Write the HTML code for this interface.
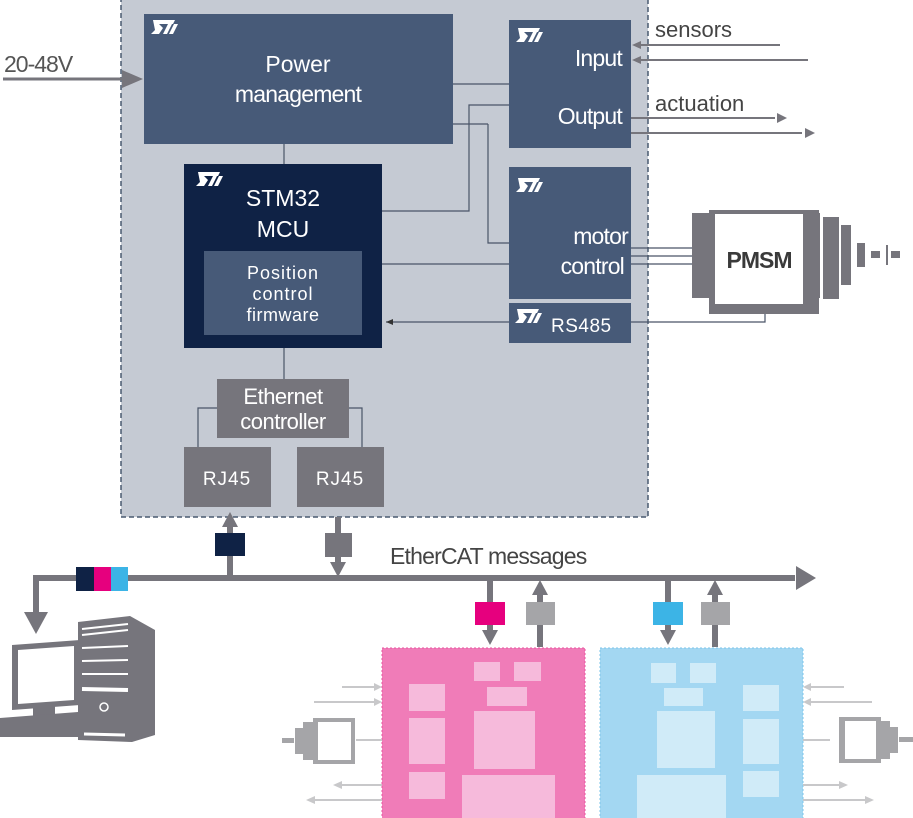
<!DOCTYPE html>
<html><head><meta charset="utf-8"><style>
html,body{margin:0;padding:0;background:#fff;}
svg{display:block;font-family:"Liberation Sans",Arial,sans-serif;}
</style></head><body>
<svg width="913" height="818" viewBox="0 0 913 818" xmlns="http://www.w3.org/2000/svg">
<defs>
<g id="st"><path d="M2 0 H24 L22 4 H8 L12 8 L8 14 H0 L4 10 Z M12 14 L17 4 H21 L16 14 Z M18 14 L23 4 H27 L22 14 Z" fill="#fff"/></g>
</defs>
<!-- main panel -->
<rect x="121" y="-2" width="527" height="519" fill="#c5cad3" stroke="#4a5a70" stroke-width="1.5" stroke-dasharray="5,3"/>
<!-- connector lines inside -->
<g stroke="#4a5568" stroke-width="1.2" fill="none">
<line x1="284" y1="144" x2="284" y2="164"/>
<line x1="453" y1="84" x2="509" y2="84"/>
<line x1="453" y1="124" x2="488" y2="124" /><polyline points="488,124 488,243 509,243"/>
<polyline points="382,211 469,211 469,105 509,105"/>
<line x1="382" y1="264" x2="509" y2="264"/>
<line x1="284" y1="348" x2="284" y2="379"/>
<polyline points="217,408 198,408 198,447"/>
<polyline points="349,408 362,408 362,447"/>
<line x1="386" y1="322" x2="509" y2="322"/>
<polyline points="631,322 765,322 765,312"/>
<line x1="631" y1="248" x2="693" y2="248"/>
<line x1="631" y1="256" x2="693" y2="256"/>
<line x1="631" y1="264" x2="693" y2="264"/>
</g>
<polygon points="386,322 393,319 393,325" fill="#333"/>
<!-- Power management -->
<rect x="144" y="14" width="309" height="130" fill="#475a78"/>
<use href="#st" x="151" y="20"/>
<text x="298" y="72" font-size="23" fill="#fff" text-anchor="middle">Power</text>
<text x="298" y="102" font-size="23" fill="#fff" text-anchor="middle" letter-spacing="-0.8">management</text>
<!-- STM32 -->
<rect x="184" y="164" width="198" height="184" fill="#0f2245"/>
<use href="#st" x="196" y="172"/>
<text x="283" y="206" font-size="23" fill="#fff" text-anchor="middle">STM32</text>
<text x="283" y="237" font-size="23" fill="#fff" text-anchor="middle">MCU</text>
<rect x="204" y="251" width="158" height="84" fill="#475a78"/>
<text x="283" y="279" font-size="18" fill="#fff" text-anchor="middle" letter-spacing="1">Position</text>
<text x="283" y="300" font-size="18" fill="#fff" text-anchor="middle" letter-spacing="1">control</text>
<text x="283" y="321" font-size="18" fill="#fff" text-anchor="middle" letter-spacing="0.5">firmware</text>
<!-- IO -->
<rect x="509" y="20" width="122" height="128" fill="#475a78"/>
<use href="#st" x="516" y="28"/>
<text x="622" y="66" font-size="23" fill="#fff" text-anchor="end" letter-spacing="-0.8">Input</text>
<text x="622" y="124" font-size="23" fill="#fff" text-anchor="end" letter-spacing="-0.8">Output</text>
<!-- motor control -->
<rect x="509" y="167" width="122" height="132" fill="#475a78"/>
<use href="#st" x="516" y="178"/>
<text x="628" y="244" font-size="23" fill="#fff" text-anchor="end" letter-spacing="-0.8">motor</text>
<text x="624" y="274" font-size="23" fill="#fff" text-anchor="end" letter-spacing="-0.8">control</text>
<rect x="509" y="303" width="122" height="40" fill="#475a78"/>
<use href="#st" x="515" y="309"/>
<text x="551" y="332" font-size="19" fill="#fff" letter-spacing="0.5">RS485</text>
<!-- Ethernet -->
<rect x="217" y="379" width="132" height="59" fill="#76757c"/>
<text x="283" y="404" font-size="22" fill="#fff" text-anchor="middle" letter-spacing="-0.5">Ethernet</text>
<text x="283" y="429" font-size="22" fill="#fff" text-anchor="middle" letter-spacing="-0.5">controller</text>
<rect x="184" y="447" width="87" height="60" fill="#76757c"/>
<rect x="297" y="447" width="87" height="60" fill="#76757c"/>
<text x="227" y="485" font-size="19" fill="#fff" text-anchor="middle" letter-spacing="1">RJ45</text>
<text x="340" y="485" font-size="19" fill="#fff" text-anchor="middle" letter-spacing="1">RJ45</text>
<!-- 20-48V -->
<text x="4" y="72" font-size="23" fill="#555" letter-spacing="-1">20-48V</text>
<line x1="3" y1="79" x2="124" y2="79" stroke="#76757c" stroke-width="3"/>
<polygon points="143,79 122,70 122,88" fill="#76757c"/>
<!-- sensors / actuation -->
<text x="655" y="37" font-size="22" fill="#444">sensors</text>
<text x="655" y="111" font-size="22" fill="#444">actuation</text>
<g stroke="#76757c" stroke-width="2">
<line x1="638" y1="45" x2="780" y2="45"/><line x1="638" y1="60" x2="808" y2="60"/>
<line x1="631" y1="118" x2="775" y2="118"/><line x1="631" y1="133" x2="802" y2="133"/>
</g>
<g fill="#76757c">
<polygon points="632,45 641,41 641,49"/><polygon points="632,60 641,56 641,64"/>
<polygon points="787,118 777,113 777,123"/><polygon points="815,133 805,128 805,138"/>
</g>
<!-- PMSM -->
<g fill="#76757c">
<rect x="709" y="210" width="110" height="104"/>
<rect x="692" y="213" width="28" height="85"/>
<rect x="803" y="213" width="17" height="85"/>
<rect x="823" y="217" width="16" height="82"/>
<rect x="841" y="225" width="10" height="60"/>
<rect x="857" y="243" width="8" height="24"/>
<rect x="871" y="251" width="9" height="7"/>
<rect x="886" y="245" width="2" height="20"/>
<rect x="891" y="251" width="9" height="7"/>
</g>
<rect x="715" y="214" width="88" height="90" fill="#fff"/>
<text x="759" y="268" font-size="23" font-weight="bold" fill="#3a3a3a" text-anchor="middle" letter-spacing="-1">PMSM</text>
<!-- bus -->
<g stroke="#76757c" stroke-width="6" fill="none">
<line x1="33" y1="578" x2="795" y2="578"/>
<line x1="36" y1="578" x2="36" y2="615"/>
<line x1="230" y1="578" x2="230" y2="525"/>
<line x1="338" y1="517" x2="338" y2="565"/>
<line x1="490" y1="578" x2="490" y2="630"/>
<line x1="540" y1="647" x2="540" y2="595"/>
<line x1="668" y1="578" x2="668" y2="630"/>
<line x1="715" y1="647" x2="715" y2="595"/>
</g>
<g fill="#76757c">
<polygon points="816,578 796,566 796,590"/>
<polygon points="36,634 24,612 48,612"/>
<polygon points="230,512 222,527 238,527"/>
<polygon points="338,577 330,562 346,562"/>
<polygon points="490,645 482,630 498,630"/>
<polygon points="540,580 532,595 548,595"/>
<polygon points="668,645 660,630 676,630"/>
<polygon points="715,580 707,595 723,595"/>
</g>
<rect x="76" y="567" width="18" height="24" fill="#0f2245"/>
<rect x="94" y="567" width="17" height="24" fill="#e6007e"/>
<rect x="111" y="567" width="17" height="24" fill="#3cb4e6"/>
<rect x="215" y="533" width="30" height="23" fill="#0f2245"/>
<rect x="325" y="533" width="27" height="24" fill="#76757c"/>
<rect x="475" y="602" width="30" height="23" fill="#e6007e"/>
<rect x="526" y="602" width="29" height="23" fill="#a5a5a8"/>
<rect x="653" y="602" width="30" height="23" fill="#3cb4e6"/>
<rect x="701" y="602" width="29" height="23" fill="#a5a5a8"/>
<text x="390" y="564" font-size="23" fill="#444" letter-spacing="-0.8">EtherCAT messages</text>
<!-- computer -->
<g fill="#76757c">
<polygon points="78,622 130,616 155,630 155,735 132,742 78,740"/>
<polygon points="12,645 80,640 80,705 12,710"/>
<rect x="33" y="705" width="22" height="15"/>
<polygon points="0,718 78,712 78,737 0,737"/>
</g>
<polygon points="18,650 74,646 74,700 18,704" fill="#fff"/>
<g stroke="#fff" stroke-width="2">
<line x1="82" y1="629" x2="128" y2="624"/><line x1="82" y1="635" x2="128" y2="630"/>
<line x1="82" y1="648" x2="128" y2="646"/><line x1="82" y1="661" x2="128" y2="660"/>
<line x1="82" y1="674" x2="128" y2="674"/>
<line x1="82" y1="689" x2="128" y2="690" stroke-width="4"/>
<line x1="84" y1="734" x2="125" y2="735" stroke-width="3"/>
</g>
<circle cx="104" cy="707" r="4" fill="none" stroke="#fff" stroke-width="1.5"/>
<!-- pink board -->
<rect x="382" y="648" width="203" height="175" fill="#f07cb8" stroke="#e8559f" stroke-dasharray="2,2"/>
<g fill="#f6badb">
<rect x="474" y="662" width="26" height="19"/><rect x="514" y="662" width="27" height="19"/>
<rect x="409" y="684" width="36" height="27"/><rect x="487" y="687" width="40" height="19"/>
<rect x="409" y="718" width="36" height="46"/><rect x="474" y="711" width="61" height="58"/>
<rect x="409" y="772" width="36" height="27"/><rect x="462" y="775" width="93" height="43"/>
</g>
<!-- blue board -->
<rect x="600" y="648" width="203" height="175" fill="#a3d7f2" stroke="#7cc4ea" stroke-dasharray="2,2"/>
<g fill="#d0ebf8">
<rect x="651" y="663" width="25" height="20"/><rect x="690" y="663" width="26" height="20"/>
<rect x="664" y="688" width="39" height="18"/>
<rect x="657" y="711" width="58" height="57"/>
<rect x="637" y="775" width="89" height="43"/>
<rect x="743" y="685" width="36" height="26"/><rect x="743" y="719" width="36" height="45"/>
<rect x="743" y="771" width="36" height="26"/>
</g>
<!-- side faded arrows -->
<g stroke="#c8c8ca" stroke-width="2">
<line x1="342" y1="687" x2="376" y2="687"/><line x1="314" y1="702" x2="376" y2="702"/>
<line x1="340" y1="785" x2="382" y2="785"/><line x1="313" y1="800" x2="382" y2="800"/>
<line x1="808" y1="687" x2="844" y2="687"/><line x1="808" y1="702" x2="872" y2="702"/>
<line x1="803" y1="785" x2="840" y2="785"/><line x1="803" y1="800" x2="866" y2="800"/>
<line x1="356" y1="740" x2="382" y2="740"/><line x1="803" y1="740" x2="830" y2="740"/>
</g>
<g fill="#c8c8ca">
<polygon points="382,687 374,683 374,691"/><polygon points="382,702 374,698 374,706"/>
<polygon points="333,785 342,781 342,789"/><polygon points="306,800 315,796 315,804"/>
<polygon points="803,687 811,683 811,691"/><polygon points="803,702 811,698 811,706"/>
<polygon points="848,785 839,781 839,789"/><polygon points="874,800 865,796 865,804"/>
</g>
<!-- small motors -->
<g fill="#a5a5a8">
<rect x="313" y="718" width="42" height="46"/><rect x="303" y="722" width="10" height="38"/>
<rect x="295" y="728" width="8" height="26"/><rect x="282" y="738" width="12" height="5"/>
<rect x="839" y="717" width="42" height="46"/><rect x="880" y="721" width="10" height="38"/>
<rect x="890" y="727" width="8" height="26"/><rect x="899" y="737" width="14" height="5"/>
</g>
<rect x="318" y="722" width="33" height="38" fill="#fff"/>
<rect x="845" y="721" width="31" height="38" fill="#fff"/>
</svg>
</body></html>
